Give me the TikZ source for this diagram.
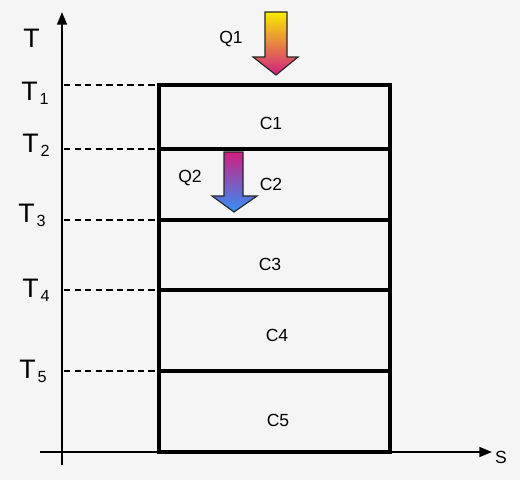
\documentclass[tikz,border=0pt]{standalone}
\usepackage{fontspec}
\setmainfont{Liberation Sans}
\usetikzlibrary{arrows.meta}
\definecolor{bg}{RGB}{245,245,245}
\definecolor{hot}{RGB}{250,235,0}
\definecolor{mag}{RGB}{210,30,130}
\definecolor{cold}{RGB}{50,145,245}
\newcommand{\Tsub}[1]{T\kern1.5pt\raisebox{-3.5pt}{\fontsize{11.5}{12}\selectfont #1}}
\tikzset{
    ax/.style={line width=1.4pt, -{Triangle[length=9pt,width=7pt]}},
    wall/.style={line width=2.8pt},
    lvl/.style={line width=0.9pt, dash pattern=on 4.5pt off 3pt},
    tlab/.style={anchor=base west, inner sep=0pt, font=\fontsize{19}{20}\selectfont},
    clab/.style={font=\fontsize{12.5}{13}\selectfont},
    heat/.style={draw=black!85, line width=0.8pt}
}
\begin{document}
\begin{tikzpicture}[x=0.025cm,y=-0.025cm]
    \fill[bg] (0,0) rectangle (520,480);
    \useasboundingbox (0,0) rectangle (520,480);

    % axes
    \coordinate (tbot) at (62,465);
    \coordinate (ttop) at (62,12);
    \coordinate (sl) at (40,452);
    \coordinate (sr) at (492,452);
    \draw[ax] (tbot) -- (ttop);
    \draw[ax] (sl) -- (sr);
    \node[tlab] (T) at (23,47) {T};
    \node[clab] (S) at (501,457) {S};

    % temperature levels
    \foreach \i/\y/\lx/\by in {1/85/21/100, 2/149/22/152, 3/220/18/222, 4/290/22/297, 5/371/19/378} {
        \coordinate (l\i) at (64,\y);
        \coordinate (r\i) at (159,\y);
        \coordinate (e\i) at (390,\y);
        \draw[lvl] (l\i) -- (r\i);
        \node[tlab] (t\i) at (\lx,\by) {\Tsub{\i}};
    }

    % cells
    \coordinate (br) at (390,452);
    \draw[wall] (r1) rectangle (br);
    \foreach \i in {2,...,5} {
        \draw[wall] (r\i) -- (e\i);
    }
    \node[clab] (c1) at (271,123) {C1};
    \node[clab] (c2) at (271,184) {C2};
    \node[clab] (c3) at (270,264) {C3};
    \node[clab] (c4) at (277,335) {C4};
    \node[clab] (c5) at (278,420) {C5};

    % heat flows
    \shade[heat, top color=hot, bottom color=mag]
        (265,12) -- (287,12) -- (287,57) -- (298,57) -- (276,75) -- (253,57) -- (265,57) -- cycle;
    \shade[heat, top color=mag, bottom color=cold]
        (224,152) -- (243,152) -- (243,196) -- (257,196) -- (234,212) -- (212,196) -- (224,196) -- cycle;
    \node[clab] (q1) at (231,39) {Q1};
    \node[clab] (q2) at (190,178) {Q2};
\end{tikzpicture}
\end{document}
